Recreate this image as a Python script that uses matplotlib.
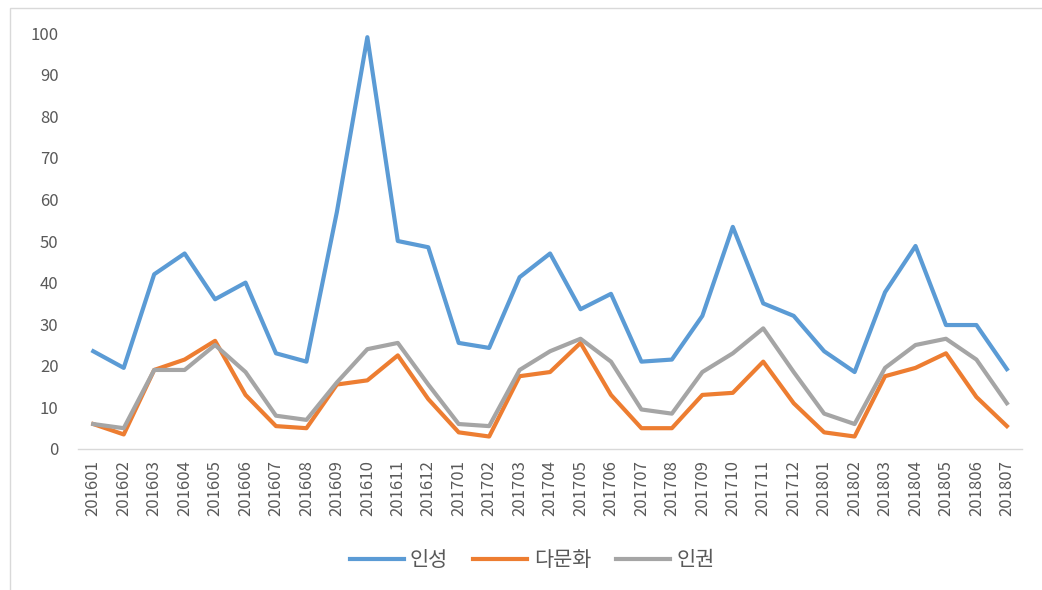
import numpy as np
import matplotlib.pyplot as plt
from matplotlib.patches import Rectangle

plt.rcParams['font.family'] = ['Noto Sans CJK KR', 'DejaVu Sans']

# Data
months = ['201601', '201602', '201603', '201604', '201605', '201606', '201607', '201608',
          '201609', '201610', '201611', '201612', '201701', '201702', '201703', '201704',
          '201705', '201706', '201707', '201708', '201709', '201710', '201711', '201712',
          '201801', '201802', '201803', '201804', '201805', '201806', '201807']
insung = [23.5, 19.5, 42, 47, 36, 40, 23, 21, 57, 99, 50, 48.5, 25.5, 24.3, 41.3, 47,
          33.6, 37.3, 21, 21.5, 32, 53.4, 35, 32, 23.5, 18.5, 37.7, 48.8, 29.8, 29.8, 19.2]
damunhwa = [6, 3.5, 19, 21.5, 26, 13, 5.5, 5, 15.5, 16.5, 22.5, 12, 4, 3, 17.5, 18.5,
            25.5, 13, 5, 5, 13, 13.5, 21, 11, 4, 3, 17.5, 19.5, 23, 12.5, 5.5]
ingwon = [6, 5, 19, 19, 25, 18.5, 8, 7, 16, 24, 25.5, 15.5, 6, 5.5, 19, 23.5,
          26.5, 21, 9.5, 8.5, 18.5, 23, 29, 18.5, 8.5, 6, 19.5, 25, 26.5, 21.5, 11]

fig = plt.figure(figsize=(10.42, 5.9), dpi=100)
ax = fig.add_axes([0.0749, 0.239, 0.906, 0.705])

# light chart border like the Excel chart area
fig.patches.append(Rectangle((0.0096, -0.01), 1.0, 0.9966, transform=fig.transFigure,
                             fill=False, edgecolor='#d9d9d9', linewidth=1))

x = np.arange(len(months))
ax.plot(x, insung, color='#5B9BD5', linewidth=3, label='인성')
ax.plot(x, damunhwa, color='#ED7D31', linewidth=3, label='다문화')
ax.plot(x, ingwon, color='#A5A5A5', linewidth=3, label='인권')

ax.set_xlim(-0.5, len(months) - 0.5)
ax.set_ylim(0, 100)
ax.set_yticks(np.arange(0, 101, 10))
ax.set_xticks(x)
ax.set_xticklabels(months, rotation=90)
ax.tick_params(axis='both', length=0, colors='#595959', labelsize=12)
ax.tick_params(axis='x', pad=8)
ax.tick_params(axis='y', pad=14)

for s in ['top', 'right', 'left']:
    ax.spines[s].set_visible(False)
ax.spines['bottom'].set_color('#d9d9d9')
ax.spines['bottom'].set_linewidth(1)

leg = ax.legend(loc='center', bbox_to_anchor=(0.481, -0.267), ncol=3, frameon=False,
                fontsize=15, handlelength=2.6, columnspacing=1.2, handletextpad=0.3)
for t in leg.get_texts():
    t.set_color('#595959')

fig.savefig('out.png', dpi=100)
